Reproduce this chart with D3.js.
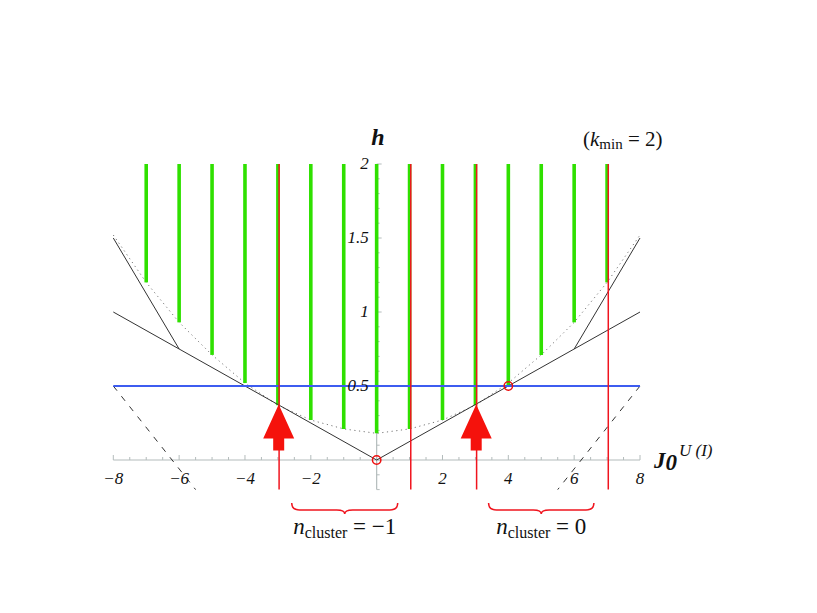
<!DOCTYPE html>
<html>
<head>
<meta charset="UTF-8">
<title>h vs J0 (kmin = 2)</title>
<script src="https://d3js.org/d3.v7.min.js"></script>
<style>
  body { margin: 0; background: #fff; }
  svg text { font-family: "Liberation Serif", "DejaVu Serif", serif; fill: #111; }
  .tick-label { font-style: italic; font-size: 17px; }
</style>
</head>
<body>
<div id="chart"></div>
<script>
// values
const greenX = [-7, -6, -5, -4, -3, -2, -1, 0, 1, 2, 3, 4, 5, 6, 7];
const greenBottom = [1.2, 0.93, 0.71, 0.52, 0.37, 0.27, 0.21, 0.18, 0.21, 0.27, 0.37, 0.5, 0.71, 0.93, 1.2];
const curveX = [-8, -7, -6, -5, -4, -3, -2, -1, 0, 1, 2, 3, 4, 5, 6, 7, 8];
const curveH = [1.52, 1.2, 0.93, 0.71, 0.52, 0.37, 0.27, 0.21, 0.18, 0.21, 0.27, 0.37, 0.52, 0.71, 0.93, 1.2, 1.52];
const redX = [-3, 1, 3, 7];
const vLine = [[-8, 1], [0, 0], [8, 1]];
const steepLines = [[[-8, 1.5], [-6, 0.75]], [[6, 0.75], [8, 1.5]]];
const dashedLines = [[[-8, 0.5], [-5.5, -0.2]], [[8, 0.5], [5.5, -0.2]]];
const blueH = 0.5;
const circles = [[0, 0], [4, 0.5]];
const arrowX = [-3, 3];
const arrowTipH = [0.375, 0.375];
const braces = [{ from: -2.58, to: 0.64, label: "−1" }, { from: 3.4, to: 6.6, label: "0" }];
const xTicks = [-8, -6, -4, -2, 2, 4, 6, 8];
const yTicks = [0.5, 1, 1.5, 2];

const W = 817, H = 613;
const svg = d3.select("#chart").append("svg").attr("width", W).attr("height", H);

const x = d3.scaleLinear().domain([-8, 8]).range([113.3, 640]);
const y = d3.scaleLinear().domain([-0.2, 2]).range([489.6, 164]);
const line = d3.line().x(d => x(d[0])).y(d => y(d[1]));

// axes (gray)
const axisCol = "#b4bcbc";
svg.append("line").attr("x1", x(-8)).attr("x2", x(8)).attr("y1", y(0)).attr("y2", y(0))
  .attr("stroke", axisCol).attr("stroke-width", 1.2);
svg.append("line").attr("x1", x(0)).attr("x2", x(0)).attr("y1", y(-0.2)).attr("y2", y(2))
  .attr("stroke", axisCol).attr("stroke-width", 1.2);

// x minor/major ticks pointing up
svg.append("g").selectAll("line").data(d3.range(-8, 8.01, 0.5)).join("line")
  .attr("x1", d => x(d)).attr("x2", d => x(d))
  .attr("y1", y(0)).attr("y2", d => y(0) - (d % 2 === 0 ? 5 : 3))
  .attr("stroke", axisCol).attr("stroke-width", 1);
// y ticks pointing right
svg.append("g").selectAll("line").data(d3.range(-0.2, 2.001, 0.1)).join("line")
  .attr("x1", x(0)).attr("x2", d => x(0) + (Math.abs(d * 2 - Math.round(d * 2)) < 1e-6 ? 5 : 3))
  .attr("y1", d => y(d)).attr("y2", d => y(d))
  .attr("stroke", axisCol).attr("stroke-width", 1);

svg.append("g").selectAll("text").data(xTicks).join("text")
  .attr("class", "tick-label")
  .attr("x", d => x(d)).attr("y", y(0) + 24)
  .attr("text-anchor", "middle")
  .text(d => d < 0 ? "−" + (-d) : d);

// dotted envelope
svg.append("path")
  .attr("d", line(curveX.map((v, i) => [v, curveH[i]])))
  .attr("fill", "none").attr("stroke", "#777").attr("stroke-width", 1)
  .attr("stroke-dasharray", "1.2,3.5");

// green bars
svg.append("g").selectAll("line").data(greenX).join("line")
  .attr("x1", d => x(d)).attr("x2", d => x(d))
  .attr("y1", y(2)).attr("y2", (d, i) => y(greenBottom[i]))
  .attr("stroke", "#2fe000").attr("stroke-width", 3.6);

// black lines
svg.append("path").attr("d", line(vLine))
  .attr("fill", "none").attr("stroke", "#333").attr("stroke-width", 1);
svg.append("g").selectAll("path").data(steepLines).join("path")
  .attr("d", line).attr("fill", "none").attr("stroke", "#333").attr("stroke-width", 1);
svg.append("g").selectAll("path").data(dashedLines).join("path")
  .attr("d", line).attr("fill", "none").attr("stroke", "#333").attr("stroke-width", 1)
  .attr("stroke-dasharray", "6,7");

// blue line
svg.append("line").attr("x1", x(-8)).attr("x2", x(8)).attr("y1", y(blueH)).attr("y2", y(blueH))
  .attr("stroke", "#3d5cf0").attr("stroke-width", 2);

// y tick labels
svg.append("g").selectAll("text").data(yTicks).join("text")
  .attr("class", "tick-label")
  .attr("x", x(0) - 8).attr("y", d => y(d) + 5)
  .attr("text-anchor", "end")
  .text(d => d);

// red verticals
svg.append("g").selectAll("line").data(redX).join("line")
  .attr("x1", d => x(d) + 1.2).attr("x2", d => x(d) + 1.2)
  .attr("y1", y(2)).attr("y2", y(-0.2))
  .attr("stroke", "#f0141e").attr("stroke-width", 1.5);

// red arrows
svg.append("g").selectAll("path").data(arrowX).join("path")
  .attr("d", (d, i) => {
    const cx = x(d) + 0.8, ty = y(arrowTipH[i]);
    return `M${cx},${ty} L${cx + 15.5},${ty + 34} L${cx + 5.5},${ty + 34} L${cx + 5.5},${ty + 46}` +
      ` L${cx - 5.5},${ty + 46} L${cx - 5.5},${ty + 34} L${cx - 15.5},${ty + 34} Z`;
  })
  .attr("fill", "#f5120c");

// red circles
svg.append("g").selectAll("circle").data(circles).join("circle")
  .attr("cx", d => x(d[0])).attr("cy", d => y(d[1])).attr("r", 4.2)
  .attr("fill", "none").attr("stroke", "#ee1111").attr("stroke-width", 1.5);

// braces
function bracePath(x0, x1, yb) {
  const m = (x0 + x1) / 2, h = 8;
  return `M${x0},${yb - 3} Q${x0},${yb + h / 2} ${x0 + 8},${yb + h / 2}` +
    ` L${m - 8},${yb + h / 2} Q${m},${yb + h / 2} ${m},${yb + h}` +
    ` Q${m},${yb + h / 2} ${m + 8},${yb + h / 2}` +
    ` L${x1 - 8},${yb + h / 2} Q${x1},${yb + h / 2} ${x1},${yb - 3}`;
}
svg.append("g").selectAll("path").data(braces).join("path")
  .attr("d", d => bracePath(x(d.from), x(d.to), 506))
  .attr("fill", "none").attr("stroke", "#f0141e").attr("stroke-width", 1.5);

const bl = svg.append("g").selectAll("text").data(braces).join("text")
  .attr("x", d => x((d.from + d.to) / 2)).attr("y", 534)
  .attr("text-anchor", "middle").style("font-size", "23px");
bl.append("tspan").style("font-style", "italic").text("n");
bl.append("tspan").style("font-size", "16px").attr("dy", 4).text("cluster");
bl.append("tspan").attr("dy", -4).text(d => " = " + d.label);

// axis titles
svg.append("text").attr("x", 378).attr("y", 145).attr("text-anchor", "middle")
  .style("font-style", "italic").style("font-weight", "bold").style("font-size", "24px").text("h");

const jl = svg.append("text").attr("x", 654).attr("y", 468).style("font-size", "23px");
jl.append("tspan").style("font-style", "italic").style("font-weight", "bold").text("J");
jl.append("tspan").style("font-style", "italic").style("font-weight", "bold").attr("dy", 2).text("0");
jl.append("tspan").style("font-style", "italic").style("font-size", "17px").attr("dy", -14).attr("dx", 2).text("U (I)");

const kl = svg.append("text").attr("x", 583).attr("y", 146).style("font-size", "21px");
kl.append("tspan").text("(");
kl.append("tspan").style("font-style", "italic").text("k");
kl.append("tspan").style("font-size", "15px").attr("dy", 3).text("min");
kl.append("tspan").attr("dy", -3).text(" = 2)");
</script>
</body>
</html>
